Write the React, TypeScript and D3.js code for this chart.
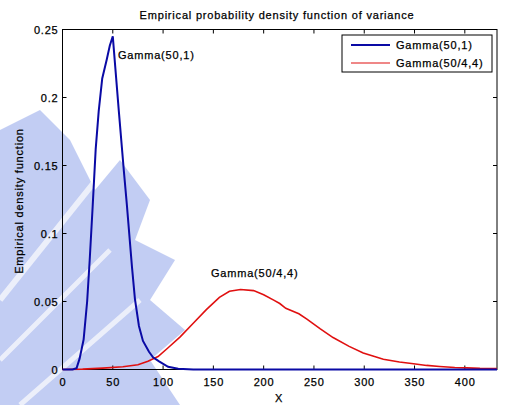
import React from "react";
import * as d3 from "d3";

const W = 507;
const H = 405;

const xTicks = [0, 50, 100, 150, 200, 250, 300, 350, 400];
const yTicks = [0, 0.05, 0.1, 0.15, 0.2, 0.25];
const yTickLabels = ["0", "0.05", "0.1", "0.15", "0.2", "0.25"];

const blueX = [0, 10, 14, 17, 21, 24.5, 27, 30, 33, 36, 39.5, 44, 47, 50, 52.5, 56, 61, 64, 69, 72, 76, 80, 86, 90, 96, 105, 115, 130, 432];
const blueY = [0, 0, 0.001, 0.008, 0.022, 0.05, 0.08, 0.12, 0.162, 0.19, 0.214, 0.228, 0.238, 0.245, 0.222, 0.19, 0.146, 0.121, 0.076, 0.052, 0.032, 0.021, 0.013, 0.009, 0.006, 0.002, 0.0005, 0, 0];

const redX = [0, 20, 40, 60, 75, 85, 95, 105, 117, 130, 143, 156, 166, 177, 190, 200, 210, 216, 222, 235, 243, 256, 269, 285, 299, 319, 335, 349, 362, 375, 390, 402, 415, 432];
const redY = [0, 0.0003, 0.001, 0.002, 0.0035, 0.006, 0.0095, 0.016, 0.024, 0.034, 0.044, 0.053, 0.0575, 0.0588, 0.058, 0.055, 0.051, 0.0485, 0.045, 0.041, 0.037, 0.030, 0.0235, 0.017, 0.0122, 0.0075, 0.0055, 0.0042, 0.003, 0.0022, 0.0015, 0.0012, 0.0008, 0.0007];

const seriesNames = ["Gamma(50,1)", "Gamma(50/4,4)"];
const title = "Empirical probability density function of variance";
const xLabel = "X";
const yLabel = "Empirical density function";

const left = 62.5, right = 497, top = 29.5, bottom = 369.5;

export default function App() {
  const x = d3.scaleLinear().domain([0, 432]).range([left, right]);
  const y = d3.scaleLinear().domain([0, 0.25]).range([bottom, top]);
  const line = d3.line<[number, number]>().x(d => x(d[0])).y(d => y(d[1]));
  const blue: [number, number][] = blueX.map((v, i) => [v, blueY[i]]);
  const red: [number, number][] = redX.map((v, i) => [v, redY[i]]);
  const font = "'Liberation Sans', Arial, sans-serif";
  const wm = "#b3c1f1";
  const ts = { fontSize: 11, letterSpacing: 0.8, stroke: "#000", strokeWidth: 0.25 } as const;
  return (
    <svg width={W} height={H} style={{ position: "absolute", left: 0, top: 0, background: "#fff" }} fontFamily={font}>
      {/* watermark approximation */}
      <g opacity={0.8}>
        <polygon points="0,130 40,110 70,140 95,190 120,160 150,200 135,240 175,260 150,300 185,330 150,360 180,405 0,405" fill={wm} />
        <line x1={0} y1={300} x2={120} y2={150} stroke="#fff" strokeWidth={6} opacity={0.7} />
        <line x1={0} y1={360} x2={110} y2={250} stroke="#fff" strokeWidth={5} opacity={0.7} />
        <line x1={20} y1={405} x2={140} y2={300} stroke="#fff" strokeWidth={5} opacity={0.7} />
      </g>
      <rect x={left} y={top} width={right - left} height={bottom - top} fill="none" stroke="#000" strokeWidth={1} />
      {xTicks.map(t => (
        <g key={"x" + t}>
          <line x1={x(t)} x2={x(t)} y1={bottom} y2={bottom - 4} stroke="#000" />
          <line x1={x(t)} x2={x(t)} y1={top} y2={top + 4} stroke="#000" />
          <text x={x(t) + 0.4} y={bottom + 16} {...ts} textAnchor="middle">{t}</text>
        </g>
      ))}
      {yTicks.map((t, i) => (
        <g key={"y" + t}>
          <line x1={left} x2={left + 4} y1={y(t)} y2={y(t)} stroke="#000" />
          <line x1={right} x2={right - 4} y1={y(t)} y2={y(t)} stroke="#000" />
          <text x={left - 4} y={y(t) + 4} {...ts} textAnchor="end">{yTickLabels[i]}</text>
        </g>
      ))}
      <path d={line(red) || ""} fill="none" stroke="#e01010" strokeWidth={1.6} />
      <path d={line(blue) || ""} fill="none" stroke="#0a0aa5" strokeWidth={2} />
      <text x={277} y={19} {...ts} textAnchor="middle">{title}</text>
      <text x={279} y={402} {...ts} textAnchor="middle">{xLabel}</text>
      <text transform={`translate(23,201) rotate(-90)`} {...ts} textAnchor="middle">{yLabel}</text>
      <text x={118} y={59} {...ts}>{seriesNames[0]}</text>
      <text x={211} y={277} {...ts}>{seriesNames[1]}</text>
      <rect x={342} y={35} width={150} height={37} fill="#fff" stroke="#000" />
      <line x1={351} x2={390} y1={45} y2={45} stroke="#0a0aa5" strokeWidth={2} />
      <line x1={351} x2={390} y1={63} y2={63} stroke="#e01010" strokeWidth={1.2} />
      <text x={396} y={49} {...ts}>{seriesNames[0]}</text>
      <text x={396} y={67} {...ts}>{seriesNames[1]}</text>
    </svg>
  );
}
